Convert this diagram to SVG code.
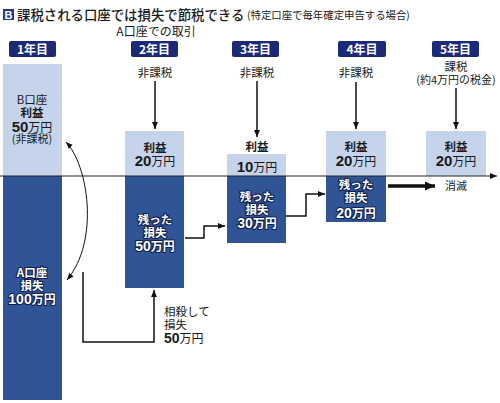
<svg xmlns="http://www.w3.org/2000/svg" width="500" height="403" viewBox="0 0 500 403">
<style>
text{font-family:"Noto Sans CJK JP","Liberation Sans",sans-serif;fill:#1a1a1a}
.light{fill:#c6d4eb}
.dark{fill:#2f5597}
.yr{fill:#1b2a78}
.yt{fill:#fff;font-weight:bold;font-size:12px;text-anchor:middle}
.lab{font-size:11.5px;text-anchor:middle}
.lb{font-size:11.5px;font-weight:bold;text-anchor:middle}
.num{font-family:"Liberation Sans",Arial,sans-serif;font-weight:bold}
.wt{fill:#fff;font-size:11.5px;font-weight:bold;text-anchor:middle;stroke:#0e1f4d;stroke-width:2.2px;paint-order:stroke;stroke-linejoin:round}
.ln{fill:none;stroke:#111;stroke-width:1.5}
</style>
<defs>
<marker id="ah" markerWidth="8" markerHeight="8" refX="7" refY="4" orient="auto" markerUnits="userSpaceOnUse">
<path d="M0,1 L7,4 L0,7 Z" fill="#111"/>
</marker>
<marker id="ahs" markerWidth="8" markerHeight="8" refX="7" refY="4" orient="auto-start-reverse" markerUnits="userSpaceOnUse">
<path d="M0,1.2 L7,4 L0,6.8 Z" fill="#111"/>
</marker>
<marker id="ahb" markerWidth="12" markerHeight="12" refX="10" refY="6" orient="auto" markerUnits="userSpaceOnUse">
<path d="M0,1.5 L10,6 L0,10.5 Z" fill="#111"/>
</marker>
</defs>
<rect width="500" height="403" fill="#fff"/>

<g id="title">
<rect x="3" y="9" width="11" height="11" fill="#1e3a8a"/>
<text x="8.5" y="18.5" text-anchor="middle" style="fill:#fff;font-family:'Liberation Sans',sans-serif;font-weight:bold;font-size:11px">B</text>
<text x="17" y="20" style="font-size:13.4px;font-weight:500">課税される口座では損失で節税できる</text>
<text x="247" y="19" style="font-size:10.4px">(特定口座で毎年確定申告する場合)</text>
<text x="156" y="36" class="lab" style="font-size:12px">A口座での取引</text>
</g>

<g id="years">
<rect class="yr" x="9" y="41" width="47" height="16" rx="2"/><text class="yt" x="32.5" y="53.5">1年目</text>
<rect class="yr" x="131" y="41" width="47" height="16" rx="2"/><text class="yt" x="154.5" y="53.5">2年目</text>
<rect class="yr" x="232" y="41" width="47" height="16" rx="2"/><text class="yt" x="255.5" y="53.5">3年目</text>
<rect class="yr" x="338" y="41" width="48" height="16" rx="2"/><text class="yt" x="362" y="53.5">4年目</text>
<rect class="yr" x="432" y="41" width="47" height="16" rx="2"/><text class="yt" x="455.5" y="53.5">5年目</text>
</g>

<g id="col1">
<rect class="light" x="3" y="64" width="59" height="112"/>
<rect class="dark" x="3" y="176" width="59" height="224"/>
<text class="lab" x="32" y="104">B口座</text>
<text class="lb" x="32" y="117">利益</text>
<text x="32" y="132" text-anchor="middle"><tspan class="num" font-size="15">50</tspan><tspan font-size="12">万円</tspan></text>
<text class="lab" x="32" y="143" style="font-size:11px">(非課税)</text>
<text class="wt" x="32" y="277">A口座</text>
<text class="wt" x="32" y="289.5">損失</text>
<text class="wt" x="32" y="304"><tspan class="num" font-size="14">100</tspan><tspan font-size="12">万円</tspan></text>
</g>

<g id="col2">
<rect class="light" x="125" y="131" width="59" height="45"/>
<rect class="dark" x="125" y="176" width="59" height="112"/>
<text class="lab" x="155" y="77">非課税</text>
<text class="lb" x="155" y="152">利益</text>
<text x="155" y="165.5" text-anchor="middle"><tspan class="num" font-size="15">20</tspan><tspan font-size="12">万円</tspan></text>
<text class="wt" x="155" y="224">残った</text>
<text class="wt" x="155" y="236.5">損失</text>
<text class="wt" x="155" y="251"><tspan class="num" font-size="14">50</tspan><tspan font-size="12">万円</tspan></text>
</g>

<g id="col3">
<rect class="light" x="227" y="154" width="59" height="22"/>
<rect class="dark" x="227" y="176" width="59" height="67"/>
<text class="lab" x="257" y="77">非課税</text>
<text class="lb" x="257" y="151">利益</text>
<text x="257" y="172" text-anchor="middle"><tspan class="num" font-size="15">10</tspan><tspan font-size="12">万円</tspan></text>
<text class="wt" x="257" y="201">残った</text>
<text class="wt" x="257" y="213.5">損失</text>
<text class="wt" x="257" y="228"><tspan class="num" font-size="14">30</tspan><tspan font-size="12">万円</tspan></text>
</g>

<g id="col4">
<rect class="light" x="326" y="131" width="60" height="45"/>
<rect class="dark" x="326" y="176" width="60" height="46"/>
<text class="lab" x="356" y="77">非課税</text>
<text class="lb" x="356" y="151">利益</text>
<text x="356" y="166" text-anchor="middle"><tspan class="num" font-size="15">20</tspan><tspan font-size="12">万円</tspan></text>
<text class="wt" x="356" y="189">残った</text>
<text class="wt" x="356" y="202">損失</text>
<text class="wt" x="356" y="218"><tspan class="num" font-size="14">20</tspan><tspan font-size="12">万円</tspan></text>
</g>

<g id="col5">
<rect class="light" x="426" y="131" width="60" height="45"/>
<text class="lab" x="456" y="71">課税</text>
<text class="lab" x="456" y="84" style="font-size:11px">(約4万円の税金)</text>
<text class="lb" x="456" y="151">利益</text>
<text x="456" y="166" text-anchor="middle"><tspan class="num" font-size="15">20</tspan><tspan font-size="12">万円</tspan></text>
</g>

<g id="notes">
<text x="445" y="190" style="font-size:11px">消滅</text>
<text x="164" y="316" style="font-size:11.5px">相殺して</text>
<text x="164" y="328.5" style="font-size:11.5px">損失</text>
<text x="164" y="343"><tspan class="num" font-size="14">50</tspan><tspan font-size="12">万円</tspan></text>
</g>

<g id="connectors">
<line x1="0" y1="176" x2="497" y2="176" stroke="#222" stroke-width="1" marker-end="url(#ah)"/>
<line class="ln" x1="155" y1="81" x2="155" y2="129" marker-end="url(#ah)"/>
<line class="ln" x1="257" y1="81" x2="257" y2="137" marker-end="url(#ah)"/>
<line class="ln" x1="356" y1="82" x2="356" y2="129" marker-end="url(#ah)"/>
<line class="ln" x1="456" y1="88" x2="456" y2="129" marker-end="url(#ah)"/>
<path class="ln" d="M185,238 H204 V226 H225" marker-end="url(#ah)"/>
<path class="ln" d="M286,216 H306 V194 H325" marker-end="url(#ah)"/>
<line x1="388" y1="186" x2="435" y2="186" stroke="#111" stroke-width="3.5" marker-end="url(#ahb)"/>
<path d="M66,142 C88,165 100,240 67,280" fill="none" stroke="#111" stroke-width="1" marker-start="url(#ahs)" marker-end="url(#ahs)"/>
<path class="ln" d="M83,272 V342 H154 V290" marker-end="url(#ah)"/>
</g>
</svg>
